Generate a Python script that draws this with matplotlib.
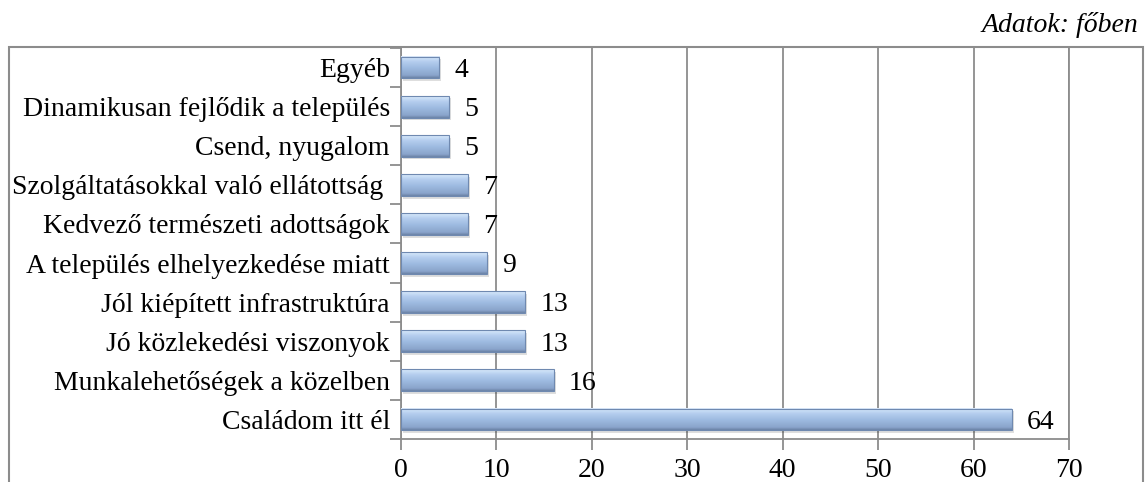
import numpy as np
import matplotlib.pyplot as plt
from matplotlib.colors import LinearSegmentedColormap
from matplotlib.patches import Rectangle

plt.rcParams['font.family'] = ['Liberation Serif', 'DejaVu Serif']

# data (bottom to top)
categories = ['Családom itt él', 'Munkalehetőségek a közelben', 'Jó közlekedési viszonyok',
              'Jól kiépített infrastruktúra', 'A település elhelyezkedése miatt',
              'Kedvező természeti adottságok', 'Szolgáltatásokkal való ellátottság ',
              'Csend, nyugalom', 'Dinamikusan fejlődik a település', 'Egyéb']
values = [64, 16, 13, 13, 9, 7, 7, 5, 5, 4]
xticks = [0, 10, 20, 30, 40, 50, 60, 70]

grid_col = '#8c8c8c'
fs = 20

fig = plt.figure(figsize=(11.48, 4.82), dpi=100)
ax = fig.add_axes([401/1148, 1 - 439/482, 668/1148, 391/482])

# outer frame
fig.patches.append(Rectangle((9/1148, -0.1), 1134/1148, 1.1 - 47/482, transform=fig.transFigure,
                             fill=False, edgecolor=grid_col, lw=1.5))

# bottom -> top colours of the bar gradient
cmap = LinearSegmentedColormap.from_list(
    'bar', [(0, '#6b83a6'), (0.12, '#8aa4cb'), (0.45, '#9dbae0'), (0.75, '#b4cdee'),
            (0.9, '#c9def6'), (1, '#dbe9f9')])
grad = np.linspace(0, 1, 64).reshape(-1, 1)
h = 0.56
pos = np.arange(len(values))
for y, v in zip(pos, values):
    # shadow
    ax.add_patch(Rectangle((0.2, y - h/2 - 0.07), v, h, facecolor='#000000', alpha=0.13,
                           edgecolor='none', zorder=2))
    ax.imshow(grad, extent=[0, v, y - h/2, y + h/2], aspect='auto', cmap=cmap,
              origin='lower', zorder=3)
    ax.add_patch(Rectangle((0, y - h/2), v, h, fill=False, edgecolor='#6f89b0', lw=0.8, zorder=4))
    ax.annotate(str(v), (v, y), xytext=(11, -2), textcoords='offset points',
                va='center', ha='left', fontsize=fs, color='black')

ax.set_xlim(0, 70)
ax.set_ylim(-0.5, len(values) - 0.5)
ax.set_xticks(xticks)
ax.set_xticklabels([str(t) for t in xticks], fontsize=fs)
ax.set_yticks(pos)
ax.set_yticklabels(categories, fontsize=fs)
ax.set_yticks(np.arange(-0.5, len(values), 1), minor=True)
ax.tick_params(axis='y', which='major', length=0, pad=8)
ax.tick_params(axis='y', which='minor', length=8, color=grid_col, width=1.3)
ax.tick_params(axis='x', length=8, color=grid_col, width=1.3, pad=6)

ax.grid(axis='x', color=grid_col, lw=1.3, zorder=0)
ax.set_axisbelow(True)
ax.spines['top'].set_visible(False)
for s in ['left', 'bottom', 'right']:
    ax.spines[s].set_color(grid_col)
    ax.spines[s].set_linewidth(1.3)

fig.text(1138/1148, 1 - 25/482, 'Adatok: főben', ha='right', va='center',
         fontsize=fs, style='italic')

fig.savefig('out.png', dpi=100)
